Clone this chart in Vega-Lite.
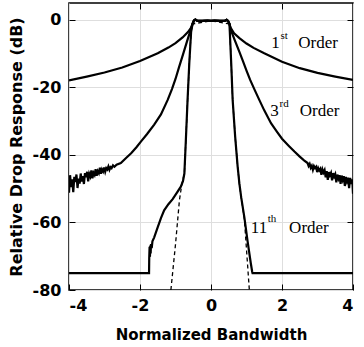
{
  "$schema": "https://vega.github.io/schema/vega-lite/v6.json",
  "width": 284,
  "height": 287,
  "autosize": "none",
  "padding": {"left": 69, "top": 3, "right": 11, "bottom": 57},
  "background": "white",
  "config": {
    "view": {"stroke": "black", "strokeWidth": 1.5},
    "axis": {
      "labelFont": "DejaVu Sans", "labelFontWeight": "bold", "labelFontSize": 16, "labelColor": "black",
      "titleFont": "DejaVu Sans", "titleFontWeight": "bold", "titleColor": "black",
      "tickColor": "black", "tickWidth": 1, "gridColor": "#dedede", "gridWidth": 1, "domain": false
    }
  },
  "datasets": {
    "curves": [
      {"s": "1st", "x": -4, "y": -17.9}, {"s": "1st", "x": -3.5, "y": -16.8}, {"s": "1st", "x": -3, "y": -15.6}, {"s": "1st", "x": -2.5, "y": -14.1}, {"s": "1st", "x": -2, "y": -12.2}, {"s": "1st", "x": -1.5, "y": -9.9}, {"s": "1st", "x": -1.2, "y": -8.2}, {"s": "1st", "x": -1, "y": -6.9}, {"s": "1st", "x": -0.8, "y": -5.2}, {"s": "1st", "x": -0.65, "y": -3.6}, {"s": "1st", "x": -0.56, "y": -2.3},
      {"s": "1st", "x": -0.52, "y": -1.2}, {"s": "1st", "x": -0.48, "y": -0.2}, {"s": "1st", "x": -0.44, "y": 0.1}, {"s": "1st", "x": -0.38, "y": -0.3}, {"s": "1st", "x": -0.25, "y": -0.3}, {"s": "1st", "x": -0.1, "y": -0.2}, {"s": "1st", "x": 0, "y": -0.3}, {"s": "1st", "x": 0.1, "y": -0.2}, {"s": "1st", "x": 0.25, "y": -0.3}, {"s": "1st", "x": 0.38, "y": -0.3}, {"s": "1st", "x": 0.44, "y": 0.0}, {"s": "1st", "x": 0.48, "y": -0.3}, {"s": "1st", "x": 0.52, "y": -1.2},
      {"s": "1st", "x": 0.55, "y": -2.3}, {"s": "1st", "x": 0.65, "y": -4.0}, {"s": "1st", "x": 0.8, "y": -5.4}, {"s": "1st", "x": 1, "y": -7.0}, {"s": "1st", "x": 1.2, "y": -8.3}, {"s": "1st", "x": 1.5, "y": -9.9}, {"s": "1st", "x": 2, "y": -12.4}, {"s": "1st", "x": 2.5, "y": -14.3}, {"s": "1st", "x": 3, "y": -15.7}, {"s": "1st", "x": 3.5, "y": -16.8}, {"s": "1st", "x": 4, "y": -17.8},

      {"s": "3rd", "x": -4.0, "y": -51.2}, {"s": "3rd", "x": -3.97, "y": -46.0}, {"s": "3rd", "x": -3.94, "y": -49.5}, {"s": "3rd", "x": -3.91, "y": -47.2}, {"s": "3rd", "x": -3.88, "y": -51.0}, {"s": "3rd", "x": -3.85, "y": -46.5}, {"s": "3rd", "x": -3.82, "y": -48.0}, {"s": "3rd", "x": -3.79, "y": -45.8}, {"s": "3rd", "x": -3.76, "y": -49.8}, {"s": "3rd", "x": -3.73, "y": -47.0}, {"s": "3rd", "x": -3.7, "y": -48.5}, {"s": "3rd", "x": -3.67, "y": -45.5}, {"s": "3rd", "x": -3.64, "y": -47.9}, {"s": "3rd", "x": -3.61, "y": -46.3}, {"s": "3rd", "x": -3.58, "y": -48.6}, {"s": "3rd", "x": -3.55, "y": -45.4}, {"s": "3rd", "x": -3.52, "y": -46.6}, {"s": "3rd", "x": -3.49, "y": -45.0}, {"s": "3rd", "x": -3.46, "y": -47.8}, {"s": "3rd", "x": -3.43, "y": -45.6}, {"s": "3rd", "x": -3.4, "y": -46.4}, {"s": "3rd", "x": -3.37, "y": -44.6}, {"s": "3rd", "x": -3.34, "y": -46.9}, {"s": "3rd", "x": -3.31, "y": -45.3}, {"s": "3rd", "x": -3.28, "y": -45.9}, {"s": "3rd", "x": -3.25, "y": -44.2}, {"s": "3rd", "x": -3.22, "y": -46.2}, {"s": "3rd", "x": -3.19, "y": -44.8}, {"s": "3rd", "x": -3.16, "y": -45.4}, {"s": "3rd", "x": -3.13, "y": -43.8}, {"s": "3rd", "x": -3.1, "y": -45.6}, {"s": "3rd", "x": -3.07, "y": -44.3}, {"s": "3rd", "x": -3.04, "y": -44.9}, {"s": "3rd", "x": -3.01, "y": -43.7}, {"s": "3rd", "x": -2.98, "y": -45.0}, {"s": "3rd", "x": -2.95, "y": -43.9}, {"s": "3rd", "x": -2.92, "y": -44.3}, {"s": "3rd", "x": -2.89, "y": -43.4}, {"s": "3rd", "x": -2.86, "y": -44.4}, {"s": "3rd", "x": -2.83, "y": -43.6}, {"s": "3rd", "x": -2.8, "y": -43.9}, {"s": "3rd", "x": -2.76, "y": -43.1}, {"s": "3rd", "x": -2.72, "y": -43.5}, {"s": "3rd", "x": -2.66, "y": -42.9},
      {"s": "3rd", "x": -2.54, "y": -42.4}, {"s": "3rd", "x": -2.4, "y": -41.0}, {"s": "3rd", "x": -2.25, "y": -39.5}, {"s": "3rd", "x": -2.1, "y": -37.7}, {"s": "3rd", "x": -1.97, "y": -36.0}, {"s": "3rd", "x": -1.8, "y": -33.8}, {"s": "3rd", "x": -1.6, "y": -31.0}, {"s": "3rd", "x": -1.41, "y": -28.0}, {"s": "3rd", "x": -1.22, "y": -23.7}, {"s": "3rd", "x": -1.1, "y": -20.5}, {"s": "3rd", "x": -1.0, "y": -17.5}, {"s": "3rd", "x": -0.9, "y": -14.0}, {"s": "3rd", "x": -0.79, "y": -10.3}, {"s": "3rd", "x": -0.68, "y": -6.5}, {"s": "3rd", "x": -0.58, "y": -3.2},
      {"s": "3rd", "x": -0.52, "y": -1.2}, {"s": "3rd", "x": -0.48, "y": -0.2}, {"s": "3rd", "x": -0.44, "y": 0.1}, {"s": "3rd", "x": -0.38, "y": -0.3}, {"s": "3rd", "x": -0.25, "y": -0.3}, {"s": "3rd", "x": -0.1, "y": -0.2}, {"s": "3rd", "x": 0, "y": -0.3}, {"s": "3rd", "x": 0.1, "y": -0.2}, {"s": "3rd", "x": 0.25, "y": -0.3}, {"s": "3rd", "x": 0.38, "y": -0.3}, {"s": "3rd", "x": 0.44, "y": 0.0}, {"s": "3rd", "x": 0.48, "y": -0.3}, {"s": "3rd", "x": 0.52, "y": -1.2},
      {"s": "3rd", "x": 0.56, "y": -3.0}, {"s": "3rd", "x": 0.66, "y": -5.8}, {"s": "3rd", "x": 0.8, "y": -9.5}, {"s": "3rd", "x": 0.9, "y": -12.2}, {"s": "3rd", "x": 1.0, "y": -15.0}, {"s": "3rd", "x": 1.1, "y": -17.7}, {"s": "3rd", "x": 1.22, "y": -20.5}, {"s": "3rd", "x": 1.36, "y": -23.7}, {"s": "3rd", "x": 1.5, "y": -26.8}, {"s": "3rd", "x": 1.69, "y": -30.6}, {"s": "3rd", "x": 1.85, "y": -33.0}, {"s": "3rd", "x": 2.0, "y": -35.2}, {"s": "3rd", "x": 2.2, "y": -37.4}, {"s": "3rd", "x": 2.35, "y": -39.0}, {"s": "3rd", "x": 2.5, "y": -40.5}, {"s": "3rd", "x": 2.62, "y": -41.6},
      {"s": "3rd", "x": 2.72, "y": -42.4}, {"s": "3rd", "x": 2.75, "y": -43.3}, {"s": "3rd", "x": 2.78, "y": -42.7}, {"s": "3rd", "x": 2.81, "y": -43.8}, {"s": "3rd", "x": 2.84, "y": -43.2}, {"s": "3rd", "x": 2.87, "y": -44.4}, {"s": "3rd", "x": 2.9, "y": -43.3}, {"s": "3rd", "x": 2.93, "y": -43.9}, {"s": "3rd", "x": 2.96, "y": -43.5}, {"s": "3rd", "x": 2.99, "y": -45.1}, {"s": "3rd", "x": 3.02, "y": -43.9}, {"s": "3rd", "x": 3.05, "y": -44.6}, {"s": "3rd", "x": 3.08, "y": -44.1}, {"s": "3rd", "x": 3.11, "y": -45.9}, {"s": "3rd", "x": 3.14, "y": -44.3}, {"s": "3rd", "x": 3.17, "y": -45.2}, {"s": "3rd", "x": 3.2, "y": -44.5}, {"s": "3rd", "x": 3.23, "y": -46.6}, {"s": "3rd", "x": 3.26, "y": -44.8}, {"s": "3rd", "x": 3.29, "y": -47.4}, {"s": "3rd", "x": 3.32, "y": -45.1}, {"s": "3rd", "x": 3.35, "y": -46.0}, {"s": "3rd", "x": 3.38, "y": -45.3}, {"s": "3rd", "x": 3.41, "y": -47.5}, {"s": "3rd", "x": 3.44, "y": -45.4}, {"s": "3rd", "x": 3.47, "y": -46.4}, {"s": "3rd", "x": 3.5, "y": -45.7}, {"s": "3rd", "x": 3.53, "y": -48.1}, {"s": "3rd", "x": 3.56, "y": -45.8}, {"s": "3rd", "x": 3.59, "y": -47.0}, {"s": "3rd", "x": 3.62, "y": -46.0}, {"s": "3rd", "x": 3.65, "y": -48.6}, {"s": "3rd", "x": 3.68, "y": -46.1}, {"s": "3rd", "x": 3.71, "y": -47.4}, {"s": "3rd", "x": 3.74, "y": -46.3}, {"s": "3rd", "x": 3.77, "y": -49.2}, {"s": "3rd", "x": 3.8, "y": -46.5}, {"s": "3rd", "x": 3.83, "y": -47.8}, {"s": "3rd", "x": 3.86, "y": -46.7}, {"s": "3rd", "x": 3.89, "y": -49.8}, {"s": "3rd", "x": 3.92, "y": -46.8}, {"s": "3rd", "x": 3.95, "y": -48.6}, {"s": "3rd", "x": 3.98, "y": -47.2}, {"s": "3rd", "x": 4.0, "y": -51.5},

      {"s": "11th", "x": -4, "y": -75}, {"s": "11th", "x": -1.745, "y": -75}, {"s": "11th", "x": -1.74, "y": -70.5}, {"s": "11th", "x": -1.73, "y": -67.2}, {"s": "11th", "x": -1.72, "y": -70.2}, {"s": "11th", "x": -1.71, "y": -66.8}, {"s": "11th", "x": -1.7, "y": -69.2}, {"s": "11th", "x": -1.69, "y": -66.4}, {"s": "11th", "x": -1.67, "y": -67.6}, {"s": "11th", "x": -1.65, "y": -65.6}, {"s": "11th", "x": -1.6, "y": -64.4}, {"s": "11th", "x": -1.5, "y": -61.4}, {"s": "11th", "x": -1.41, "y": -58.7}, {"s": "11th", "x": -1.32, "y": -56.4}, {"s": "11th", "x": -1.2, "y": -54.6}, {"s": "11th", "x": -1.08, "y": -53.1}, {"s": "11th", "x": -0.95, "y": -51.0}, {"s": "11th", "x": -0.85, "y": -49.4}, {"s": "11th", "x": -0.79, "y": -47.8}, {"s": "11th", "x": -0.75, "y": -45.5}, {"s": "11th", "x": -0.71, "y": -36.0}, {"s": "11th", "x": -0.66, "y": -23.7}, {"s": "11th", "x": -0.61, "y": -12.5}, {"s": "11th", "x": -0.56, "y": -3.5},
      {"s": "11th", "x": -0.52, "y": -1.2}, {"s": "11th", "x": -0.48, "y": -0.2}, {"s": "11th", "x": -0.44, "y": 0.1}, {"s": "11th", "x": -0.38, "y": -0.3}, {"s": "11th", "x": -0.25, "y": -0.3}, {"s": "11th", "x": -0.1, "y": -0.2}, {"s": "11th", "x": 0, "y": -0.3}, {"s": "11th", "x": 0.1, "y": -0.2}, {"s": "11th", "x": 0.25, "y": -0.3}, {"s": "11th", "x": 0.38, "y": -0.3}, {"s": "11th", "x": 0.44, "y": 0.0}, {"s": "11th", "x": 0.48, "y": -0.3}, {"s": "11th", "x": 0.52, "y": -1.2},
      {"s": "11th", "x": 0.53, "y": -3.5}, {"s": "11th", "x": 0.57, "y": -13.0}, {"s": "11th", "x": 0.61, "y": -23.7}, {"s": "11th", "x": 0.68, "y": -34.5}, {"s": "11th", "x": 0.75, "y": -43.4}, {"s": "11th", "x": 0.8, "y": -48.5}, {"s": "11th", "x": 0.85, "y": -52.5}, {"s": "11th", "x": 0.94, "y": -58.5}, {"s": "11th", "x": 1.03, "y": -65.5}, {"s": "11th", "x": 1.12, "y": -72.0}, {"s": "11th", "x": 1.16, "y": -74.6}, {"s": "11th", "x": 1.17, "y": -75}, {"s": "11th", "x": 4, "y": -75},

      {"s": "dash", "x": -1.13, "y": -80}, {"s": "dash", "x": -1.0, "y": -66.5}, {"s": "dash", "x": -0.89, "y": -53.5}, {"s": "dash", "x": -0.82, "y": -48.5}, {"s": "dash", "x": -0.75, "y": -45.5}, {"s": "dash", "x": -0.71, "y": -36.0}, {"s": "dash", "x": -0.66, "y": -23.7}, {"s": "dash", "x": -0.61, "y": -12.5}, {"s": "dash", "x": -0.56, "y": -3.5}, {"s": "dash", "x": -0.52, "y": -1.2}, {"s": "dash", "x": 0, "y": -0.3}, {"s": "dash", "x": 0.52, "y": -1.2}, {"s": "dash", "x": 0.53, "y": -3.5}, {"s": "dash", "x": 0.57, "y": -13.0}, {"s": "dash", "x": 0.61, "y": -23.7}, {"s": "dash", "x": 0.68, "y": -34.5}, {"s": "dash", "x": 0.75, "y": -43.4}, {"s": "dash", "x": 0.8, "y": -48.5}, {"s": "dash", "x": 0.85, "y": -52.5}, {"s": "dash", "x": 0.94, "y": -59.0}, {"s": "dash", "x": 1.08, "y": -80}
    ],
    "labels": [
      {"t": "1", "x": 1.70, "y": -8.3}, {"t": "Order", "x": 2.46, "y": -8.3},
      {"t": "3", "x": 1.67, "y": -28.6}, {"t": "Order", "x": 2.5, "y": -28.6},
      {"t": "11", "x": 1.12, "y": -63}, {"t": "Order", "x": 2.2, "y": -63}
    ],
    "sups": [
      {"t": "st", "x": 1.96, "y": -5.6}, {"t": "rd", "x": 1.93, "y": -25.9}, {"t": "th", "x": 1.6, "y": -60}
    ]
  },
  "resolve": {"axis": {"x": "independent", "y": "independent"}},
  "layer": [
    {
      "data": {"name": "curves"},
      "transform": [{"filter": "datum.s !== 'dash'"}],
      "mark": {"type": "line", "color": "black", "strokeWidth": 2.2, "clip": true},
      "encoding": {
        "x": {"field": "x", "type": "quantitative", "scale": {"domain": [-4, 4], "nice": false, "zero": false},
          "axis": {"orient": "bottom", "values": [-4, -2, 0, 2, 4], "labelExpr": "'' + datum.value", "title": "Normalized Bandwidth", "titleFontSize": 15, "grid": true, "tickSize": -6, "labelPadding": 13, "titlePadding": 14}},
        "y": {"field": "y", "type": "quantitative", "scale": {"domain": [-80, 5], "nice": false, "zero": false},
          "axis": {"orient": "left", "values": [-80, -60, -40, -20, 0], "labelExpr": "'' + datum.value", "title": "Relative Drop Response  (dB)", "titleFontSize": 16, "grid": true, "tickSize": -6, "labelPadding": 14, "titlePadding": 8}},
        "detail": {"field": "s", "type": "nominal"}
      }
    },
    {
      "data": {"name": "curves"},
      "transform": [{"filter": "datum.s === 'dash'"}],
      "mark": {"type": "line", "color": "black", "strokeWidth": 1.3, "strokeDash": [4, 3], "clip": true},
      "encoding": {
        "x": {"field": "x", "type": "quantitative", "axis": {"orient": "top", "values": [-2, 0, 2], "labels": false, "grid": false, "title": null, "tickSize": -6}},
        "y": {"field": "y", "type": "quantitative", "axis": {"orient": "right", "values": [-60, -40, -20, 0], "labels": false, "grid": false, "title": null, "tickSize": -6}}
      }
    },
    {
      "data": {"name": "labels"},
      "mark": {"type": "text", "font": "Liberation Serif", "fontSize": 17, "align": "left", "baseline": "alphabetic", "color": "black"},
      "encoding": {
        "x": {"field": "x", "type": "quantitative", "axis": null},
        "y": {"field": "y", "type": "quantitative", "axis": null},
        "text": {"field": "t"}
      }
    },
    {
      "data": {"name": "sups"},
      "mark": {"type": "text", "font": "Liberation Serif", "fontSize": 11, "align": "left", "baseline": "alphabetic", "color": "black"},
      "encoding": {
        "x": {"field": "x", "type": "quantitative", "axis": null},
        "y": {"field": "y", "type": "quantitative", "axis": null},
        "text": {"field": "t"}
      }
    }
  ]
}
